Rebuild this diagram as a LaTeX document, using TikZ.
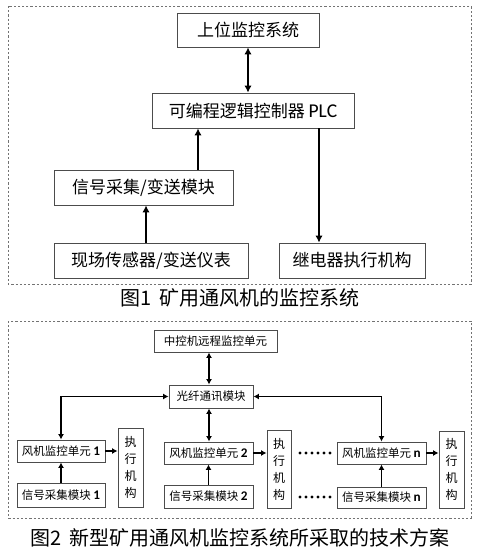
\documentclass[tikz,border=0pt]{standalone}
\usepackage{fontspec}
\setmainfont{Noto Sans CJK SC}
\newfontfamily\lat[Scale=1.15]{Carlito}
\usetikzlibrary{arrows.meta,calc}
\tikzset{
  box/.style={draw=black!70, line width=0.9pt, fill=white, inner sep=0pt, align=center},
  bigbox/.style={box, font=\fontsize{17}{17}\selectfont},
  smallbox/.style={box, font=\fontsize{11.5}{11.5}\selectfont},
  vbox/.style={box, font=\fontsize{12}{17}\selectfont},
  arr/.style={line width=1.8pt, -{Latex[length=7pt,width=7.5pt]}},
  darr/.style={line width=1.8pt, {Latex[length=7pt,width=7.5pt]}-{Latex[length=7pt,width=7.5pt]}},
  sarr/.style={line width=1.6pt, -{Latex[length=5.5pt,width=6pt]}},
  sdarr/.style={line width=1.6pt, {Latex[length=5.5pt,width=6pt]}-{Latex[length=5.5pt,width=6pt]}},
  frame/.style={draw=black!55, line width=0.9pt, dash pattern=on 2.2pt off 2pt},
  caption/.style={font=\fontsize{20}{20}\selectfont, inner sep=0pt}
}
\begin{document}
\begin{tikzpicture}[x=1pt,y=-1pt]
\useasboundingbox[fill=white] (0,0) rectangle (480,550);
% ---------- Figure 1 ----------
\draw[frame] (8,6) rectangle (471,284);
\node[bigbox, minimum width=142pt, minimum height=34pt] (up) at (248,30) {上位监控系统};
\node[bigbox, minimum width=202pt, minimum height=35pt] (plc) at (253,110.5) {可编程逻辑控制器 {\lat PLC}};
\node[bigbox, minimum width=179pt, minimum height=35pt] (sig) at (143.5,187.5) {信号采集/变送模块};
\node[bigbox, minimum width=194pt, minimum height=35pt] (sens) at (151,260.5) {现场传感器/变送仪表};
\node[bigbox, minimum width=146pt, minimum height=35pt] (relay) at (352,260.5) {继电器执行机构};
\coordinate (a0) at (248,0);
\coordinate (a1) at (198,0);
\coordinate (a2) at (146,0);
\coordinate (a3) at (319,0);
\draw[darr] (a0 |- up.south) -- (a0 |- plc.north);
\draw[arr] (a1 |- sig.north) -- (a1 |- plc.south);
\draw[arr] (a2 |- sens.north) -- (a2 |- sig.south);
\draw[arr] (a3 |- plc.south) -- (a3 |- relay.north);
\node[caption] (cap1) at (240,298) {图1\,\ 矿用通风机的监控系统};
% ---------- Figure 2 ----------
\draw[frame] (8,321) rectangle (471,518);
\node[smallbox, minimum width=123pt, minimum height=22pt] (zk) at (215.5,341) {中控机远程监控单元};
\node[smallbox, minimum width=84pt, minimum height=23pt] (gx) at (211,396.5) {光纤通讯模块};
\node[smallbox, minimum width=88pt, minimum height=22pt] (f1) at (61,451) {风机监控单元 {\lat\bfseries 1}};
\node[smallbox, minimum width=88pt, minimum height=24pt] (s1) at (61,495) {信号采集模块 {\lat\bfseries 1}};
\node[vbox, minimum width=25pt, minimum height=79pt] (e1) at (130.5,467.5) {执\\行\\机\\构};
\node[smallbox, minimum width=89pt, minimum height=22pt] (f2) at (208.5,453) {风机监控单元 {\lat\bfseries 2}};
\node[smallbox, minimum width=89pt, minimum height=23pt] (s2) at (208.5,496.5) {信号采集模块 {\lat\bfseries 2}};
\node[vbox, minimum width=24pt, minimum height=78pt] (e2) at (279,469) {执\\行\\机\\构};
\node[smallbox, minimum width=89pt, minimum height=22pt] (fn) at (381.5,453) {风机监控单元 {\lat\bfseries n}};
\node[smallbox, minimum width=89pt, minimum height=21pt] (sn) at (381.5,497.5) {信号采集模块 {\lat\bfseries n}};
\node[vbox, minimum width=25pt, minimum height=77pt] (en) at (451.5,469.5) {执\\行\\机\\构};
\coordinate (b0) at (209,0);
\draw[sdarr] (b0 |- zk.south) -- (b0 |- gx.north);
\draw[sdarr] (b0 |- gx.south) -- (b0 |- f2.north);
\draw[sdarr] (f1.north) |- (gx.west);
\draw[sdarr] (gx.east) -| (fn.north);
\draw[sarr] (s1.north) -- (f1.south);
\draw[sarr] (s2.north) -- (f2.south);
\draw[sarr] (sn.north) -- (fn.south);
\draw[sarr] (f1.east) -- (f1.east -| e1.west);
\draw[sarr] (f2.east) -- (f2.east -| e2.west);
\draw[sarr] (fn.east) -- (fn.east -| en.west);
\foreach \i in {0,...,5} {
  \fill (300+6*\i,453) circle (1.7pt);
  \fill (300+6*\i,497) circle (1.7pt);
}
\node[caption] (cap2) at (240,538) {图2\,\ 新型矿用通风机监控系统所采取的技术方案};
\end{tikzpicture}
\end{document}
